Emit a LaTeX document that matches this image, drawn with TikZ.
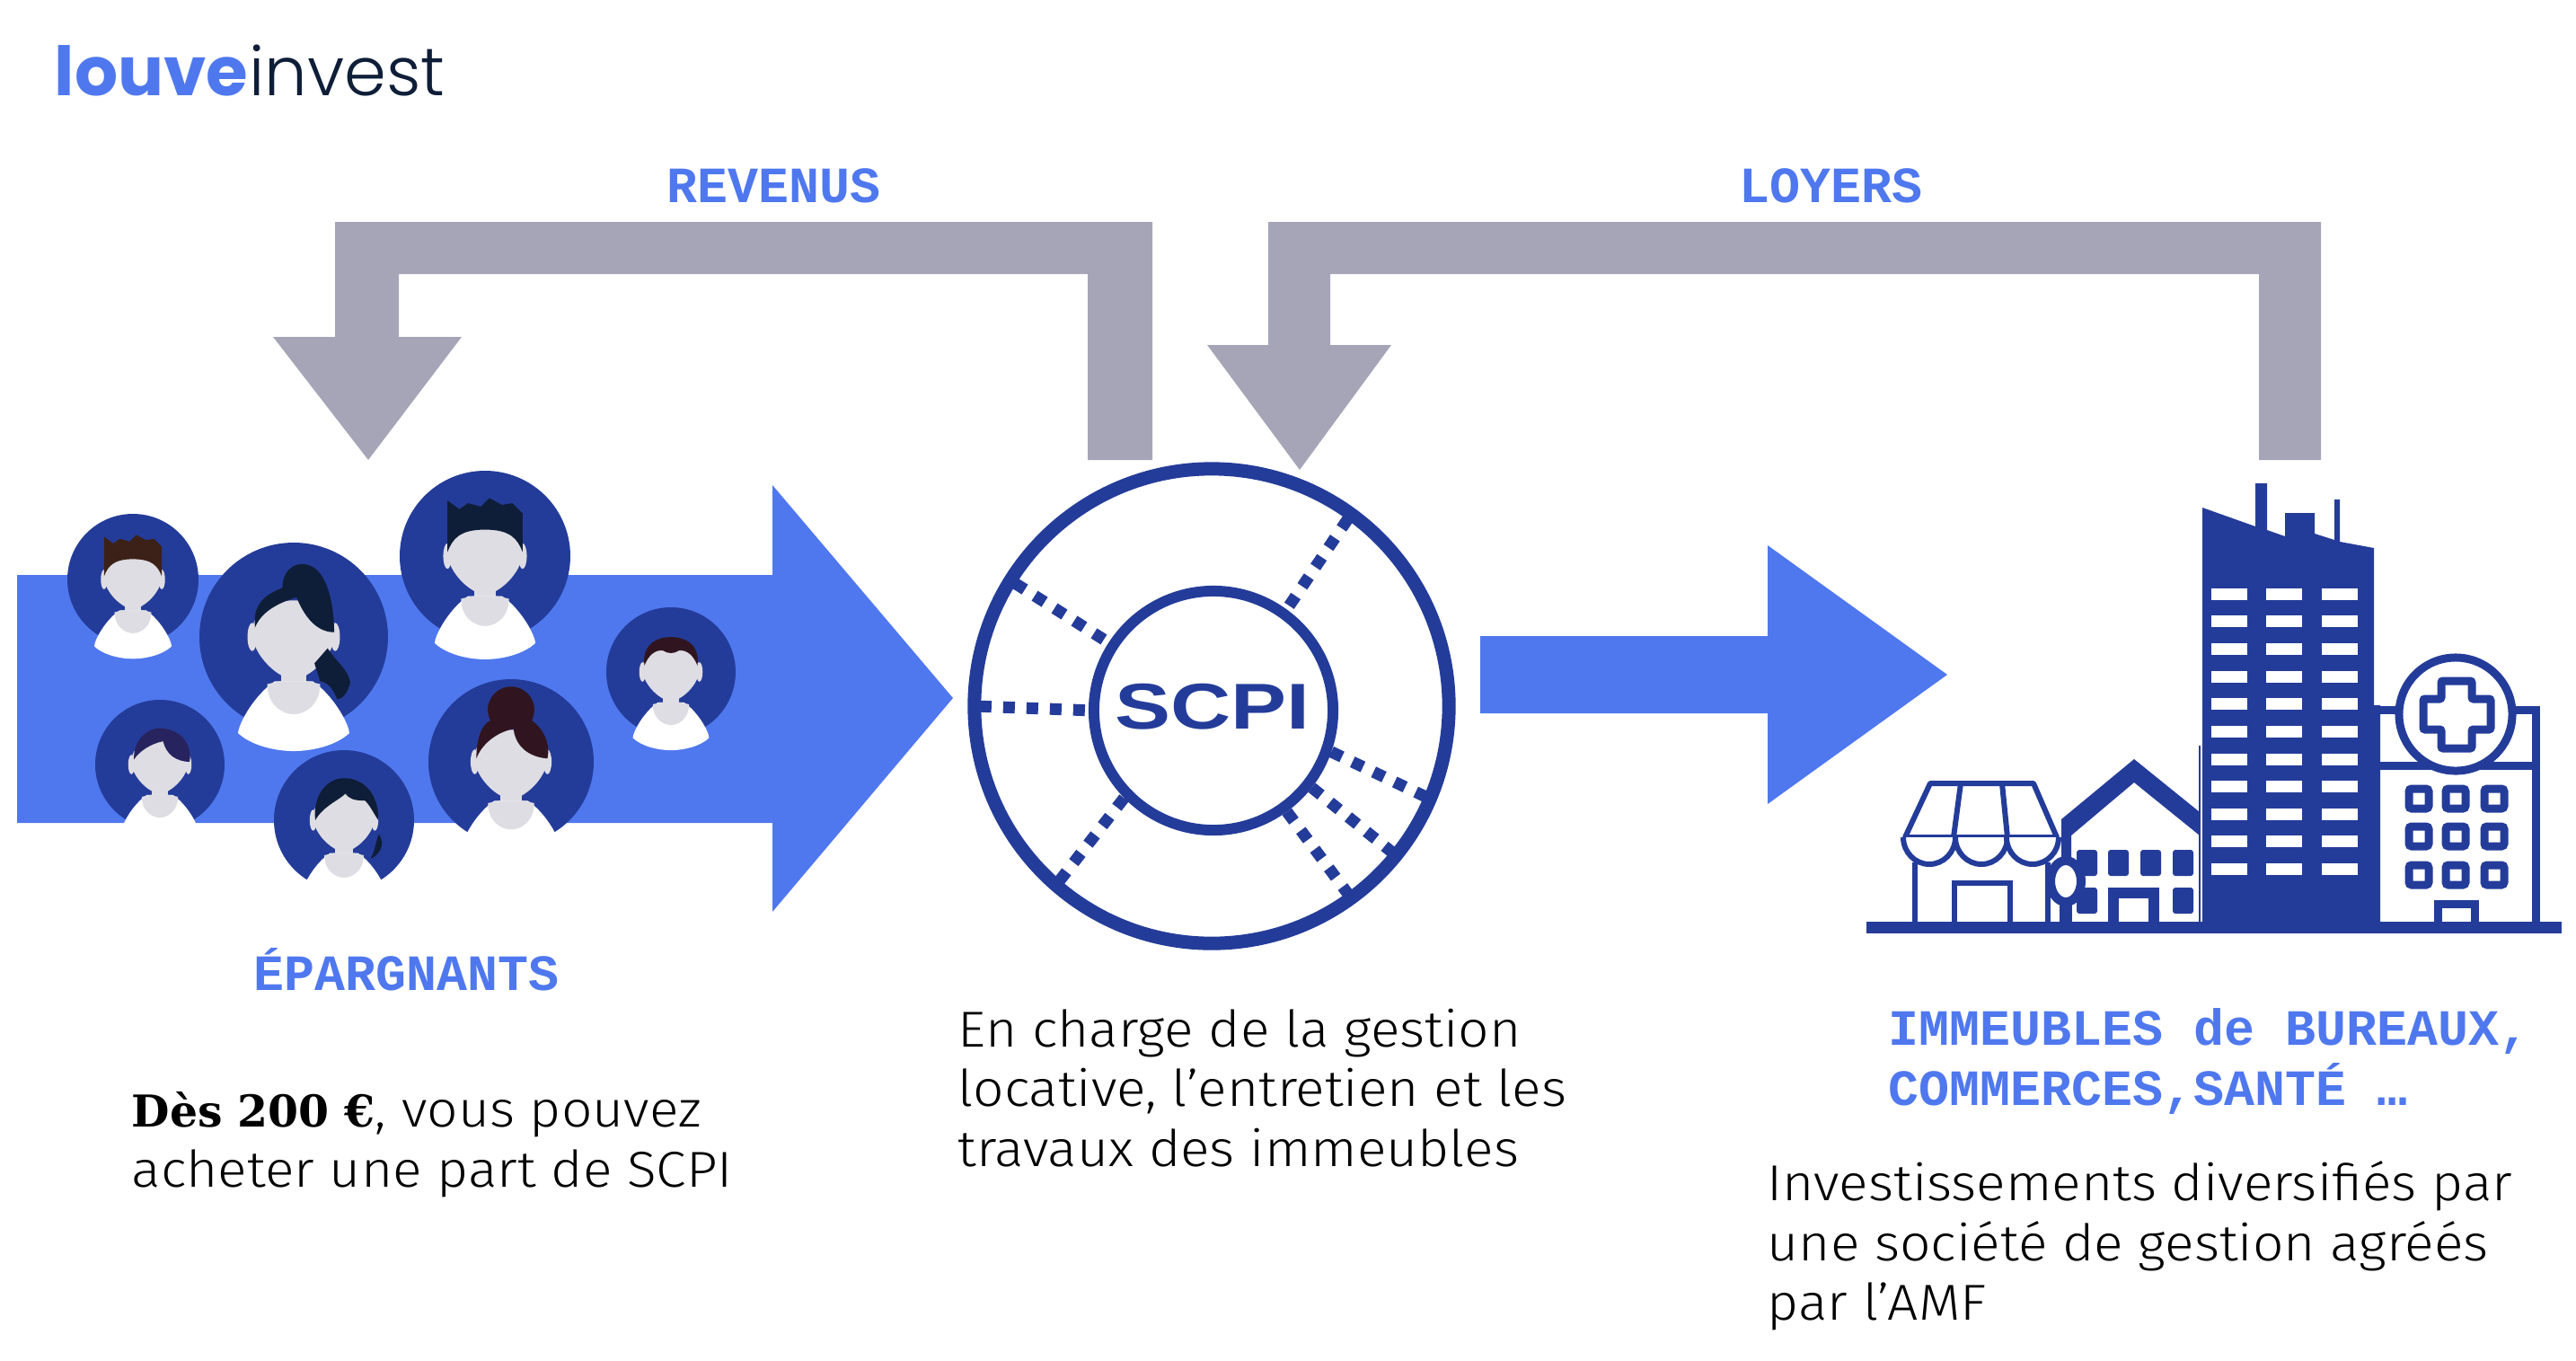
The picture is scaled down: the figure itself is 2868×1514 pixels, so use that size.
\documentclass[tikz,border=0pt]{standalone}
\usepackage{fontspec}
\setmainfont{Fira Sans Light}[FakeStretch=1.075]
\newfontfamily\monofont{Liberation Mono}
\newfontfamily\boldfont{DejaVu Serif}
\newfontfamily\logofont{Poppins}
\newfontfamily\logolight{Poppins Light}
\newfontfamily\scpifont{Liberation Sans}
\definecolor{lightblue}{HTML}{4F78EE}
\definecolor{darkblue}{HTML}{243C99}
\definecolor{arrowgrey}{HTML}{A6A5B8}
\definecolor{facegrey}{HTML}{DEDDE3}
\definecolor{navy}{HTML}{0F1E38}
\definecolor{redhair}{HTML}{301520}
\definecolor{brownhair}{HTML}{3B2117}
\definecolor{violethair}{HTML}{27235F}
\tikzset{
  title/.style={anchor=base west,inner sep=0,text=lightblue,font=\monofont\bfseries\fontsize{16.1}{19}\selectfont},
  body/.style={anchor=north west,inner sep=0,align=left,text=black,font=\fontsize{16}{18.9}\selectfont},
  ring/.style={circle,draw=darkblue,inner sep=0,outer sep=0},
  dots/.style={draw=darkblue,line width=0.13cm,dash pattern=on 0.13cm off 0.13cm,dash phase=0.2cm},
  wall/.style={draw=darkblue,line width=0.06cm},
  hwall/.style={draw=darkblue,line width=0.09cm},
}
\newcommand{\avatar}[5]{
  \begin{scope}[shift={(#1,#2)},scale=#3]
    \fill[darkblue] (0,0) circle (1);
    \fill[facegrey] (-.13,.25) rectangle (.13,.55);
    \fill[white] (-.2,.47) .. controls (-.4,.6) and (-.58,.9) .. (-.59,1.02) .. controls (-.45,1.15) and (-.2,1.21) .. (0,1.21) .. controls (.2,1.21) and (.45,1.15) .. (.59,1.02) .. controls (.58,.9) and (.4,.6) .. (.2,.47) -- cycle;
    \fill[facegrey] (-.28,.5) .. controls (-.28,.72) and (-.12,.82) .. (0,.82) .. controls (.12,.82) and (.28,.72) .. (.28,.5) -- (.15,.47) -- (-.15,.47) -- cycle;
    \fill[facegrey] (-.44,0) ellipse (.05 and .15);
    \fill[facegrey] (.44,0) ellipse (.05 and .15);
    \fill[facegrey] (-.44,-.05) .. controls (-.44,-.5) and (.44,-.5) .. (.44,-.05) .. controls (.44,.2) and (.15,.45) .. (0,.45) .. controls (-.15,.45) and (-.44,.2) .. (-.44,-.05) -- cycle;
    \fill[#4] #5;
  \end{scope}
}
\newcommand{\hairspiky}{(-.44,-.05) -- (-.44,-.65) -- (-.3,-.55) -- (-.2,-.62) -- (-.05,-.58) -- (.05,-.68) -- (.2,-.6) -- (.32,-.62) -- (.44,-.5) -- (.44,-.05) .. controls (.38,-.2) and (.3,-.31) .. (0,-.31) .. controls (-.3,-.31) and (-.38,-.2) .. (-.44,-.05) -- cycle}
\newcommand{\hairlong}{(-.41,-.1) .. controls (-.44,-.35) and (-.3,-.45) .. (-.12,-.52) .. controls (-.12,-.7) and (0,-.79) .. (.12,-.77) .. controls (.3,-.75) and (.42,-.5) .. (.43,-.05) .. controls (.25,-.05) and (.12,-.2) .. (.03,-.42) .. controls (-.2,-.35) and (-.35,-.25) .. (-.41,-.1) -- cycle (.36,.12) .. controls (.44,.25) and (.58,.35) .. (.6,.48) .. controls (.58,.58) and (.52,.66) .. (.46,.66) .. controls (.42,.55) and (.36,.48) .. (.28,.47) -- (.22,.28) -- cycle}
\newcommand{\hairbun}{(-.42,-.04) .. controls (-.42,-.3) and (-.35,-.45) .. (-.25,-.5) .. controls (-.35,-.7) and (-.2,-.91) .. (0,-.91) .. controls (.2,-.91) and (.35,-.7) .. (.25,-.5) .. controls (.4,-.4) and (.48,-.2) .. (.44,-.04) .. controls (.2,-.06) and (.05,-.2) .. (.03,-.4) .. controls (-.2,-.35) and (-.36,-.2) .. (-.42,-.04) -- cycle}
\newcommand{\hairside}{(-.4,-.08) .. controls (-.42,-.4) and (-.15,-.62) .. (.1,-.55) .. controls (.35,-.5) and (.5,-.3) .. (.46,-.04) .. controls (.25,-.05) and (.1,-.15) .. (.05,-.36) .. controls (-.15,-.32) and (-.32,-.2) .. (-.4,-.08) -- cycle}
\newcommand{\hairfringe}{(-.41,0) .. controls (-.45,-.35) and (-.25,-.6) .. (0,-.6) .. controls (.3,-.6) and (.5,-.35) .. (.49,0) .. controls (.42,-.1) and (.38,-.2) .. (.3,-.28) .. controls (.15,-.28) and (.08,-.3) .. (.02,-.38) .. controls (-.05,-.3) and (-.3,-.2) .. (-.41,0) -- cycle (.5,.2) .. controls (.6,.35) and (.5,.5) .. (.38,.55) .. controls (.45,.42) and (.45,.3) .. (.5,.2) -- cycle}
\newcommand{\hairshort}{(-.41,-.1) .. controls (-.45,-.4) and (-.25,-.54) .. (0,-.54) .. controls (.25,-.54) and (.45,-.4) .. (.41,-.1) .. controls (.35,-.25) and (.25,-.35) .. (.12,-.33) .. controls (.05,-.28) and (-.05,-.28) .. (-.12,-.33) .. controls (-.25,-.35) and (-.35,-.25) .. (-.41,-.1) -- cycle}
\begin{document}
\begin{tikzpicture}[x=0.01cm,y=-0.01cm]
\useasboundingbox (0,0) rectangle (2868,1514);

\node[anchor=base west,inner sep=0,text=lightblue,font=\logofont\bfseries\fontsize{21.5}{23}\selectfont] (louvelogo) at (60,106) {louve};
\node[anchor=base west,inner sep=0,text=navy,font=\logolight\fontsize{21.4}{23}\selectfont] (investlogo) at (277,106) {invest};

\fill[arrowgrey] (1283,512) -- (1283,247) -- (373,247) -- (373,375) -- (304,375) -- (410,512) -- (514,375) -- (444,375) -- (444,305) -- (1211,305) -- (1211,512) -- cycle;
\fill[arrowgrey] (2584,512) -- (2584,247) -- (1412,247) -- (1412,384) -- (1344,384) -- (1447,523) -- (1549,384) -- (1481,384) -- (1481,305) -- (2515,305) -- (2515,512) -- cycle;

\fill[lightblue] (19,640) -- (860,640) -- (860,540) -- (1061,777) -- (860,1015) -- (860,916) -- (19,916) -- cycle;
\fill[lightblue] (1648,708) -- (1968,708) -- (1968,607) -- (2168,751) -- (1968,895) -- (1968,794) -- (1648,794) -- cycle;

\avatar{148}{645}{73}{brownhair}{\hairspiky}
\avatar{540}{619}{95}{navy}{\hairspiky}
\avatar{327}{709}{105}{navy}{\hairlong}
\avatar{747}{748}{72}{redhair}{\hairshort}
\avatar{178}{851}{72}{violethair}{\hairside}
\avatar{569}{848}{92}{redhair}{\hairbun}
\avatar{383}{913}{78}{navy}{\hairfringe}

\node[ring,line width=0.15cm,minimum size=5.28cm] (outerring) at (1349,786) {};
\node[ring,line width=0.12cm,minimum size=2.66cm] (innerring) at (1351,791) {};
\node[inner sep=0,text=darkblue,font=\scpifont\bfseries\fontsize{20.5}{20.5}\selectfont] (scpi) at (1350,787) {\scalebox{1.29}[1]{SCPI}};

\draw[dots] (outerring.54) -- (innerring.54);
\draw[dots] (outerring.148) -- (innerring.147);
\draw[dots] (outerring.180) -- (innerring.180);
\draw[dots] (outerring.229) -- (innerring.224);
\draw[dots] (innerring.-19) -- (outerring.-23);
\draw[dots] (innerring.-38) -- (outerring.-39);
\draw[dots] (innerring.-54) -- (outerring.-54);

% tower
\fill[darkblue] (2452,565) -- (2511,586) -- (2511,538) -- (2524,538) -- (2524,590) -- (2544,597) -- (2544,571) -- (2577,571) -- (2577,594) -- (2599,601) -- (2599,556) -- (2605,556) -- (2605,603) -- (2643,610) -- (2643,785) -- (2650,785) -- (2650,1030) -- (2452,1030) -- cycle;
\foreach \row in {0,...,10}
  \foreach \col in {2462,2523,2585}
    \fill[white] (\col,654.6+30.65*\row) rectangle ++(40,13);

% ground
\fill[darkblue] (2078,1026) rectangle (2852,1039);

% hospital
\draw[hwall] (2650,790) -- (2823,790) -- (2823,1030);
\draw[hwall] (2650,852) -- (2823,852);
\node[circle,draw=darkblue,fill=white,line width=0.09cm,inner sep=0,minimum size=1.26cm] (medal) at (2734,795) {};
\draw[hwall,rounded corners=0.02cm] (2718,758) -- (2752,758) -- (2752,778) -- (2773,778) -- (2773,812) -- (2752,812) -- (2752,833) -- (2718,833) -- (2718,812) -- (2698,812) -- (2698,778) -- (2718,778) -- cycle;
\foreach \wx in {2693,2734,2777}
  \foreach \wy in {889,931,974}
    \draw[hwall,rounded corners=0.03cm] (\wx-11,\wy-11) rectangle (\wx+11,\wy+11);
\draw[hwall] (2714,1030) -- (2714,1006) -- (2755,1006) -- (2755,1030);

% house
\fill[darkblue] (2295,912) -- (2376,845) -- (2449,904) -- (2449,930) -- (2376,871) -- (2306,930) -- (2306,1030) -- (2295,1030) -- cycle;
\draw[darkblue,line width=0.012cm] (2449,830) -- (2449,1026);
\foreach \wx in {2312,2347,2383,2419}
  \fill[darkblue,rounded corners=0.03cm] (\wx,946) rectangle ++(23,29);
\foreach \wx in {2312,2419}
  \fill[darkblue,rounded corners=0.03cm] (\wx,988) rectangle ++(23,29);
\draw[hwall,line width=0.12cm] (2353,1030) -- (2353,994) -- (2398,994) -- (2398,1030);
\fill[darkblue] (2293,1000) rectangle (2307,1030);
\draw[darkblue,fill=white,line width=0.1cm] (2300,981) ellipse (17 and 23);

% shop
\draw[wall] (2132,960) -- (2132,1030);
\draw[wall] (2280,960) -- (2280,1030);
\draw[wall] (2176,1030) -- (2176,983) -- (2238,983) -- (2238,1030);
\draw[wall,fill=white,line join=round] (2149,872) -- (2264,872) -- (2290,932) -- (2121,932) -- cycle;
\draw[wall] (2183,872) -- (2175,932);
\draw[wall] (2229,872) -- (2235,932);
\foreach \sx in {2148,2206,2263}
  \draw[wall,fill=white] (\sx-29,932) arc[start angle=180,end angle=360,x radius=29,y radius=-30];

\node[title] (revenus) at (742,225) {REVENUS};
\node[title] (loyers) at (1936,225) {LOYERS};
\node[title] (epargnants) at (282,1102) {ÉPARGNANTS};
\node[title] (immeubles) at (2102,1163) {IMMEUBLES de BUREAUX,};
\node[title] (commerces) at (2102,1230) {COMMERCES,SANTÉ …};

\node[body] (epargne) at (146,1215) {{\boldfont\bfseries\fontsize{13.9}{18.9}\selectfont Dès 200 €}, vous pouvez\\acheter une part de SCPI};
\node[body] (gestion) at (1066,1122) {En charge de la gestion\\locative, l’entretien et les\\travaux des immeubles};
\node[body] (invest) at (1967,1292) {Investissements diversifiés par\\une société de gestion agréés\\par l’AMF};

\end{tikzpicture}
\end{document}
